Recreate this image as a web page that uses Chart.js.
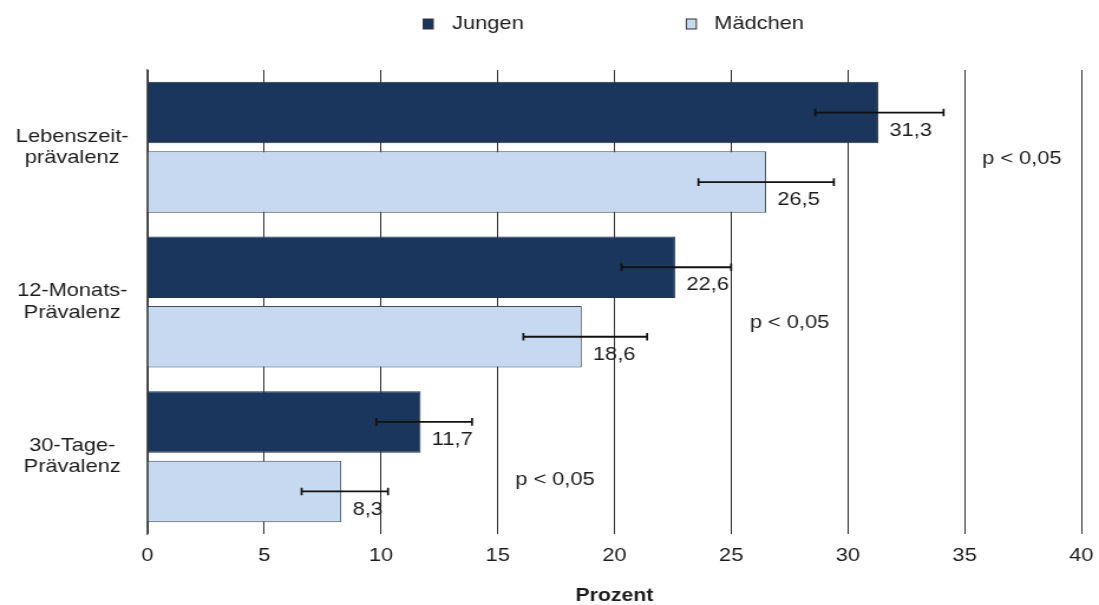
<!DOCTYPE html>
<html>
<head>
<meta charset="utf-8">
<script src="https://cdn.jsdelivr.net/npm/chart.js@4/dist/chart.umd.min.js"></script>
<style>
  html, body { margin: 0; padding: 0; background: #fff; overflow: hidden; }
  /* drawing surface is rendered narrower and widened to the page width */
  #wrap { width: 931px; height: 605px; transform: scaleX(1.18045); transform-origin: 0 0; }
  #chart { display: block; }
</style>
</head>
<body>
<div id="wrap"><canvas id="chart" width="931" height="605"></canvas></div>
<script>
// ---- data ----
const categories = [['Lebenszeit-', 'prävalenz'], ['12-Monats-', 'Prävalenz'], ['30-Tage-', 'Prävalenz']];
const seriesNames = ['Jungen', 'Mädchen'];
const jungen = [31.3, 22.6, 11.7];
const maedchen = [26.5, 18.6, 8.3];
const jungenLow = [28.6, 20.3, 9.8];
const jungenHigh = [34.1, 25.0, 13.9];
const maedchenLow = [23.6, 16.1, 6.6];
const maedchenHigh = [29.4, 21.4, 10.3];
const pLabels = ['p < 0,05', 'p < 0,05', 'p < 0,05'];
const axisTitle = 'Prozent';
const xMin = 0, xMax = 40, xStep = 5;

// ---- styling / layout ----
const FONT = "'Liberation Sans', Arial, Helvetica, sans-serif";
const FS = 18.5;
const TEXT = '#1c1c1c';
const DARK = '#1a365c';
const LIGHT = '#c6d9f0';
const BORDER = '#3e4a5a';
const PLOT_LEFT = 125, PLOT_TOP = 70, PLOT_BOTTOM = 534, PAD_RIGHT = 15;
// p-note anchors: x in percent, y as category position
const pNoteX = [35.75, 25.8, 15.75];
const pNoteY = [0.076, 1.136, 2.151];

Chart.defaults.font.family = FONT;
Chart.defaults.font.size = FS;
Chart.defaults.color = TEXT;

const fmt = v => v.toFixed(1).replace('.', ',');

const errorBarsAndLabels = {
  id: 'errorBarsAndLabels',
  afterDatasetsDraw(chart) {
    const { ctx, scales: { x, y } } = chart;
    const lows = [jungenLow, maedchenLow];
    const highs = [jungenHigh, maedchenHigh];
    ctx.save();
    chart.data.datasets.forEach((ds, d) => {
      const meta = chart.getDatasetMeta(d);
      meta.data.forEach((bar, i) => {
        const x0 = x.getPixelForValue(lows[d][i]);
        const x1 = x.getPixelForValue(highs[d][i]);
        const yc = bar.y;
        ctx.strokeStyle = '#111';
        ctx.lineWidth = 1.8;
        ctx.beginPath();
        ctx.moveTo(x0, yc); ctx.lineTo(x1, yc);
        ctx.stroke();
        ctx.lineWidth = 1.7;
        ctx.beginPath();
        ctx.moveTo(x0, yc - 3.8); ctx.lineTo(x0, yc + 3.8);
        ctx.moveTo(x1, yc - 3.8); ctx.lineTo(x1, yc + 3.8);
        ctx.stroke();
        // value label
        ctx.fillStyle = TEXT;
        ctx.font = `${FS}px ${FONT}`;
        ctx.textAlign = 'left';
        ctx.textBaseline = 'middle';
        ctx.fillText(fmt(ds.data[i]), bar.x + 9.5, yc + 18);
      });
    });
    // significance notes
    ctx.fillStyle = TEXT;
    ctx.font = `${FS}px ${FONT}`;
    ctx.textAlign = 'left';
    ctx.textBaseline = 'middle';
    pLabels.forEach((t, i) => {
      ctx.fillText(t, x.getPixelForValue(pNoteX[i]), y.getPixelForValue(pNoteY[i]));
    });
    ctx.restore();
  }
};

const topLegend = {
  id: 'topLegend',
  afterDraw(chart) {
    const { ctx } = chart;
    const items = [
      { box: 358.5, text: 383, ds: chart.data.datasets[0] },
      { box: 581.4, text: 605, ds: chart.data.datasets[1] }
    ];
    const yc = 24;
    ctx.save();
    items.forEach(it => {
      ctx.fillStyle = it.ds.backgroundColor;
      ctx.fillRect(it.box, yc - 5, 8.5, 10);
      ctx.strokeStyle = '#333';
      ctx.lineWidth = 1;
      ctx.strokeRect(it.box, yc - 5, 8.5, 10);
      ctx.fillStyle = TEXT;
      ctx.font = `${FS}px ${FONT}`;
      ctx.textAlign = 'left';
      ctx.textBaseline = 'middle';
      ctx.fillText(it.ds.label, it.text, yc);
    });
    ctx.restore();
  }
};

new Chart(document.getElementById('chart'), {
  type: 'bar',
  data: {
    labels: categories,
    datasets: [
      { label: seriesNames[0], data: jungen, backgroundColor: DARK, borderColor: '#20324a', borderWidth: 1 },
      { label: seriesNames[1], data: maedchen, backgroundColor: LIGHT, borderColor: BORDER, borderWidth: 1 }
    ]
  },
  options: {
    indexAxis: 'y',
    responsive: false,
    animation: false,
    devicePixelRatio: 1,
    categoryPercentage: 0.899,
    barPercentage: 0.885,
    layout: { padding: { top: PLOT_TOP, right: PAD_RIGHT, bottom: 0, left: 0 } },
    plugins: { legend: { display: false }, tooltip: { enabled: false } },
    scales: {
      x: {
        min: xMin, max: xMax,
        ticks: { stepSize: xStep, padding: 11, color: TEXT, font: { size: FS } },
        grid: { color: '#2e2e2e', lineWidth: 1, drawTicks: false },
        border: { display: false },
        title: { display: true, text: axisTitle, color: TEXT, font: { size: 18, weight: 'bold', lineHeight: 1 }, padding: { top: 0, bottom: 0 } },
        afterFit(scale) {
          scale.height = 605 - PLOT_BOTTOM;
          scale.paddingLeft = 0;
          scale.paddingRight = 0;
        }
      },
      y: {
        ticks: { crossAlign: 'center', padding: 16, color: TEXT, font: { size: FS, lineHeight: 1.15 } },
        grid: { display: true, color: 'rgba(0,0,0,0)', drawTicks: false },
        border: { display: true, color: '#555', width: 1.3 },
        afterFit(scale) { scale.width = PLOT_LEFT; }
      }
    }
  },
  plugins: [errorBarsAndLabels, topLegend]
});
</script>
</body>
</html>
